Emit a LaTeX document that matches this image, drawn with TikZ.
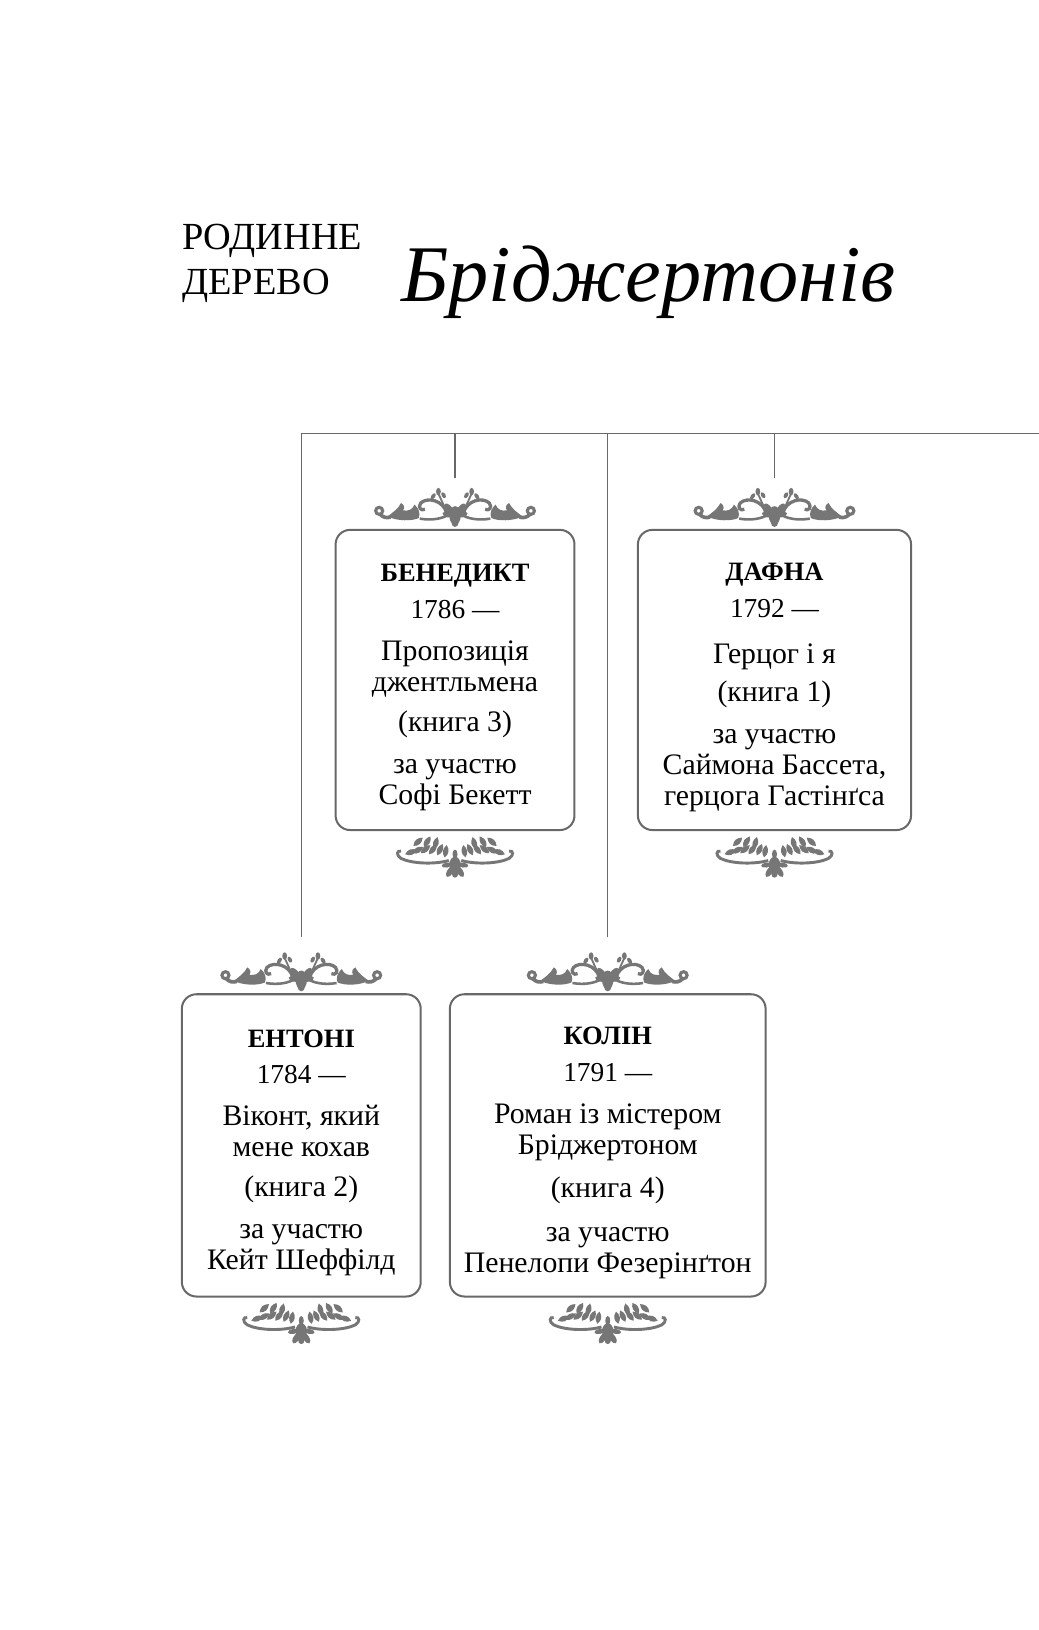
\documentclass[tikz,border=0pt]{standalone}
\usepackage{fontspec}
\setmainfont{Liberation Serif}
\usetikzlibrary{positioning}
\definecolor{orngray}{RGB}{118,118,118}
\definecolor{linegray}{RGB}{104,104,104}
\newcommand{\famname}[1]{{\bfseries\fontsize{14.5}{17}\selectfont\rule{0pt}{18pt}#1}}
\newcommand{\famyear}[1]{{\fontsize{15}{17}\selectfont #1}}

\tikzset{
  famcard/.style={draw=linegray, line width=1.1pt, rounded corners=0.28cm, align=center,
    inner sep=0pt, font=\fontsize{16.3}{17}\selectfont},
  crest/.style={minimum width=3.2cm, minimum height=0.74cm, inner sep=0pt},
  foot/.style={minimum width=2.3cm, minimum height=0.78cm, inner sep=0pt},
  branch/.style={draw=linegray, line width=0.6pt},
  % flourish above a card
  orntop/.pic={
    \begin{scope}[yscale=-1, shift={(0,-11)}, orngray]
      \foreach \s in {1,-1} {
        \begin{scope}[xscale=\s]
          \draw[line width=1.7pt] (73,9.5) circle (3.4);
          \draw[line width=2pt] (72,6) .. controls (69,3) and (66,2.5) .. (62,3.5);
          \fill (65,4) .. controls (55,-0.5) and (42,-0.5) .. (35,2.5)
            .. controls (33,7) and (35,12) .. (39,15.5) .. controls (41,10.5) and (45,9) .. (50,10)
            .. controls (48,12.5) and (49,15.5) .. (52,17) .. controls (55,11) and (60,8) .. (65,4) -- cycle;
          \draw[line width=1.8pt] (8,7) .. controls (11,20) and (27,23) .. (33,17) .. controls (36,13) and (33,9) .. (29,11);
          \draw[line width=1pt] (9,11) .. controls (12,17) and (14,22) .. (16,26);
          \fill (16,28) ellipse (2.3 and 3.6);
          \fill[rotate around={-35:(21,23.5)}] (21,23.5) ellipse (1.9 and 3.3);
          \fill[rotate around={30:(11,24.5)}] (11,24.5) ellipse (1.9 and 3.1);
          \draw[line width=1.4pt] (34,2) .. controls (22,0) and (12,2) .. (6,6);
        \end{scope}}
      \fill (0,5) ellipse (5.5 and 9);
      \fill[rotate around={38:(0,4)}] (0,13) ellipse (3 and 6.5);
      \fill[rotate around={-38:(0,4)}] (0,13) ellipse (3 and 6.5);
      \fill[rotate around={75:(0,4)}] (0,11) ellipse (2.6 and 5.5);
      \fill[rotate around={-75:(0,4)}] (0,11) ellipse (2.6 and 5.5);
      \fill (0,-2) ellipse (3.4 and 4);
    \end{scope}
  },
  % flourish below a card
  ornbot/.pic={
    \begin{scope}[yscale=-1, shift={(0,-19.5)}, orngray]
      \foreach \s in {1,-1} {
        \begin{scope}[xscale=\s]
          \draw[line width=1.6pt] (6,16) .. controls (20,12) and (42,13) .. (52,18) .. controls (57,21) and (56,26) .. (52,25);
          \foreach \px/\py/\a in {10/19/10, 17/21/25, 25/22/38, 33/23/50, 41/23/60, 48/22/70, 20/27/15, 30/29/32, 40/30/48} {
            \fill[shift={(\px,\py)}, rotate=-\a] (0,0) .. controls (3.8,4) and (3.4,8) .. (0,12) .. controls (-3.4,8) and (-3.8,4) .. (0,0);
          }
        \end{scope}}
      \fill (0,12) ellipse (5.5 and 7.5);
      \fill[rotate around={32:(0,13)}] (0,4) ellipse (2.8 and 6);
      \fill[rotate around={-32:(0,13)}] (0,4) ellipse (2.8 and 6);
      \fill[rotate around={80:(0,13)}] (0,5) ellipse (2.4 and 5);
      \fill[rotate around={-80:(0,13)}] (0,5) ellipse (2.4 and 5);
      \fill (0,3) ellipse (3 and 3.5);
      \fill (0,22) ellipse (2.4 and 4.5);
    \end{scope}
  }
}

\begin{document}
\begin{tikzpicture}[x=0.02cm, y=-0.02cm]
  \useasboundingbox[fill=white] (0,0) rectangle (1000,1569);

  % heading
  \node[anchor=base west, inner sep=0pt, font=\fontsize{21}{22}\selectfont] (kin) at (175,240) {РОДИННЕ};
  \node[anchor=base west, inner sep=0pt, font=\fontsize{21}{22}\selectfont] (tree) at (175,283) {ДЕРЕВО};
  \node[anchor=base west, inner sep=0pt, font=\fontsize{44}{48}\selectfont\itshape] (surname) at (386,290) {Бріджертонів};

  % cards
  \node[famcard, minimum width=4.6cm, minimum height=5.78cm] (benedict) at (438,654.5)
    {\famname{БЕНЕДИКТ}\\[3pt] \famyear{1786 —}\\[6pt] Пропозиція\\ джентльмена\\[5pt] (книга 3)\\[6pt] за участю\\ Софі Бекетт};
  \node[famcard, minimum width=5.26cm, minimum height=5.78cm] (daphne) at (745.5,654.5)
    {\famname{ДАФНА}\\[3pt] \famyear{1792 —}\\[8pt] Герцог і я\\[4pt] (книга 1)\\[6pt] за участю\\ Саймона Бассета,\\ герцога Гастінґса};
  \node[famcard, minimum width=4.6cm, minimum height=5.82cm] (anthony) at (290,1102.5)
    {\famname{ЕНТОНІ}\\[3pt] \famyear{1784 —}\\[6pt] Віконт, який\\ мене кохав\\[5pt] (книга 2)\\[6pt] за участю\\ Кейт Шеффілд};
  \node[famcard, minimum width=6.08cm, minimum height=5.82cm] (colin) at (585,1102.5)
    {\famname{КОЛІН}\\[3pt] \famyear{1791 —}\\[6pt] Роман із містером\\ Бріджертоном\\[7pt] (книга 4)\\[7pt] за участю\\ Пенелопи Фезерінґтон};

  % flourishes
  \foreach \who in {anthony, benedict, colin, daphne} {
    \node[crest, above=0pt of \who] (\who-crest) {};
    \node[foot, below=0.1cm of \who] (\who-foot) {};
    \pic at (\who-crest) {orntop};
    \pic at (\who-foot) {ornbot};
  }

  % family lines
  \coordinate (trunk) at (1000,417);
  \draw[branch] ([yshift=0.32cm]anthony-crest.north) |- (trunk);
  \draw[branch] ([yshift=0.32cm]colin-crest.north) -- (colin-crest.north |- trunk);
  \draw[branch] ([yshift=0.22cm]benedict-crest.north) -- (benedict-crest.north |- trunk);
  \draw[branch] ([yshift=0.22cm]daphne-crest.north) -- (daphne-crest.north |- trunk);
\end{tikzpicture}
\end{document}
